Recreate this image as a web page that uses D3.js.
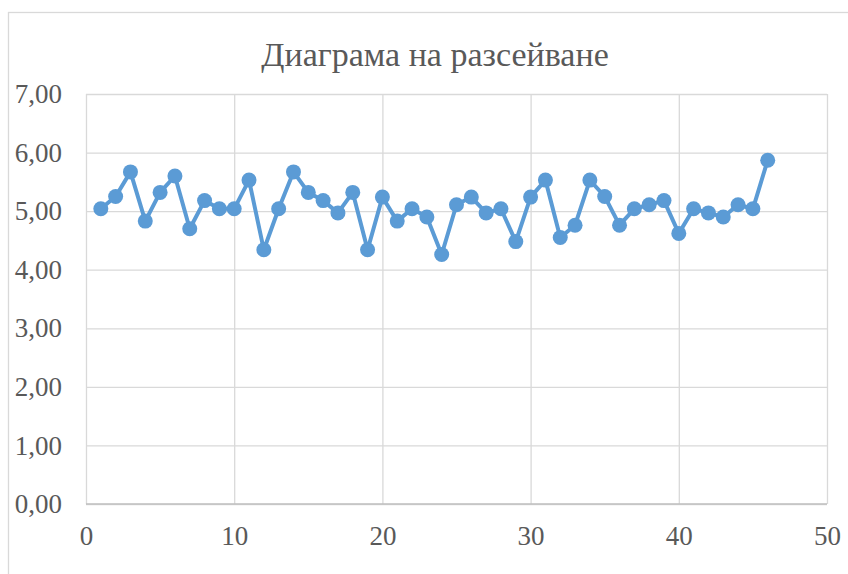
<!DOCTYPE html>
<html>
<head>
<meta charset="utf-8">
<script src="https://cdn.jsdelivr.net/npm/d3@7"></script>
<style>
  html, body { margin: 0; padding: 0; background: #fff; }
  svg { display: block; }
  .serif { font-family: "Liberation Serif", "Times New Roman", Times, "DejaVu Serif", serif; }
</style>
</head>
<body>
<svg id="chart" width="848" height="574"></svg>
<script>
const title = "Диаграма на разсейване";
const xValues = [1,2,3,4,5,6,7,8,9,10,11,12,13,14,15,16,17,18,19,20,21,22,23,24,25,26,27,28,29,30,31,32,33,34,35,36,37,38,39,40,41,42,43,44,45,46];
const yValues = [5.04,5.25,5.67,4.83,5.32,5.60,4.70,5.18,5.04,5.04,5.53,4.34,5.04,5.67,5.32,5.18,4.97,5.32,4.34,5.24,4.83,5.04,4.90,4.26,5.11,5.24,4.97,5.04,4.48,5.24,5.53,4.55,4.76,5.53,5.25,4.76,5.04,5.11,5.18,4.62,5.04,4.97,4.90,5.11,5.04,5.87];
const xTicks = [0,10,20,30,40,50];
const yTicks = [0,1,2,3,4,5,6,7];

const data = xValues.map((x, i) => ({x, y: yValues[i]}));

const svg = d3.select("#chart");
const W = 848, H = 574;
const m = {left: 86, right: 848 - 827, top: 94, bottom: 574 - 504};

// chart border
svg.append("rect")
  .attr("x", 8.5).attr("y", 12.5)
  .attr("width", W + 20).attr("height", H + 20)
  .attr("fill", "#fff").attr("stroke", "#d9d9d9").attr("stroke-width", 1.3);

const x = d3.scaleLinear().domain([0, 50]).range([m.left, W - m.right]);
const y = d3.scaleLinear().domain([0, 7]).range([H - m.bottom, m.top]);

// gridlines
svg.append("g")
  .attr("transform", `translate(0,${H - m.bottom})`)
  .call(d3.axisBottom(x).tickValues(xTicks).tickSize(-(H - m.bottom - m.top)).tickFormat(""))
  .call(g => g.select(".domain").remove())
  .call(g => g.selectAll("line").attr("stroke", "#d9d9d9").attr("stroke-width", 1.3));

svg.append("g")
  .attr("transform", `translate(${m.left},0)`)
  .call(d3.axisLeft(y).tickValues(yTicks).tickSize(-(W - m.right - m.left)).tickFormat(""))
  .call(g => g.select(".domain").remove())
  .call(g => g.selectAll("line").attr("stroke", "#d9d9d9").attr("stroke-width", 1.3));

// bottom axis line
svg.append("line")
  .attr("x1", x(0)).attr("x2", x(50))
  .attr("y1", y(0)).attr("y2", y(0))
  .attr("stroke", "#bfbfbf").attr("stroke-width", 1.5);

// axis labels
const fmt = d => d3.format(".2f")(d).replace(".", ",");
svg.append("g")
  .attr("transform", `translate(${m.left},0)`)
  .attr("font-family", null)
  .call(d3.axisLeft(y).tickValues(yTicks).tickSize(0).tickPadding(24).tickFormat(fmt))
  .call(g => g.attr("font-family", null).attr("font-size", null))
  .call(g => g.select(".domain").remove())
  .call(g => g.selectAll("text")
    .attr("class", "serif").attr("font-size", 27).attr("fill", "#595959"));

svg.append("g")
  .attr("transform", `translate(0,${H - m.bottom})`)
  .call(d3.axisBottom(x).tickValues(xTicks).tickSize(0).tickPadding(22).tickFormat(d3.format("d")))
  .call(g => g.attr("font-family", null).attr("font-size", null))
  .call(g => g.select(".domain").remove())
  .call(g => g.selectAll("text")
    .attr("class", "serif").attr("font-size", 27).attr("fill", "#595959"));

// title
svg.append("text")
  .attr("class", "serif")
  .attr("x", 435).attr("y", 66)
  .attr("text-anchor", "middle")
  .attr("font-size", 34).attr("fill", "#595959")
  .text(title);

// series
const color = "#5b9bd5";
svg.append("path")
  .datum(data)
  .attr("fill", "none")
  .attr("stroke", color)
  .attr("stroke-width", 4)
  .attr("stroke-linejoin", "round")
  .attr("d", d3.line().x(d => x(d.x)).y(d => y(d.y)));

svg.append("g").selectAll("circle")
  .data(data).join("circle")
  .attr("cx", d => x(d.x)).attr("cy", d => y(d.y))
  .attr("r", 7.5).attr("fill", color);
</script>
</body>
</html>
